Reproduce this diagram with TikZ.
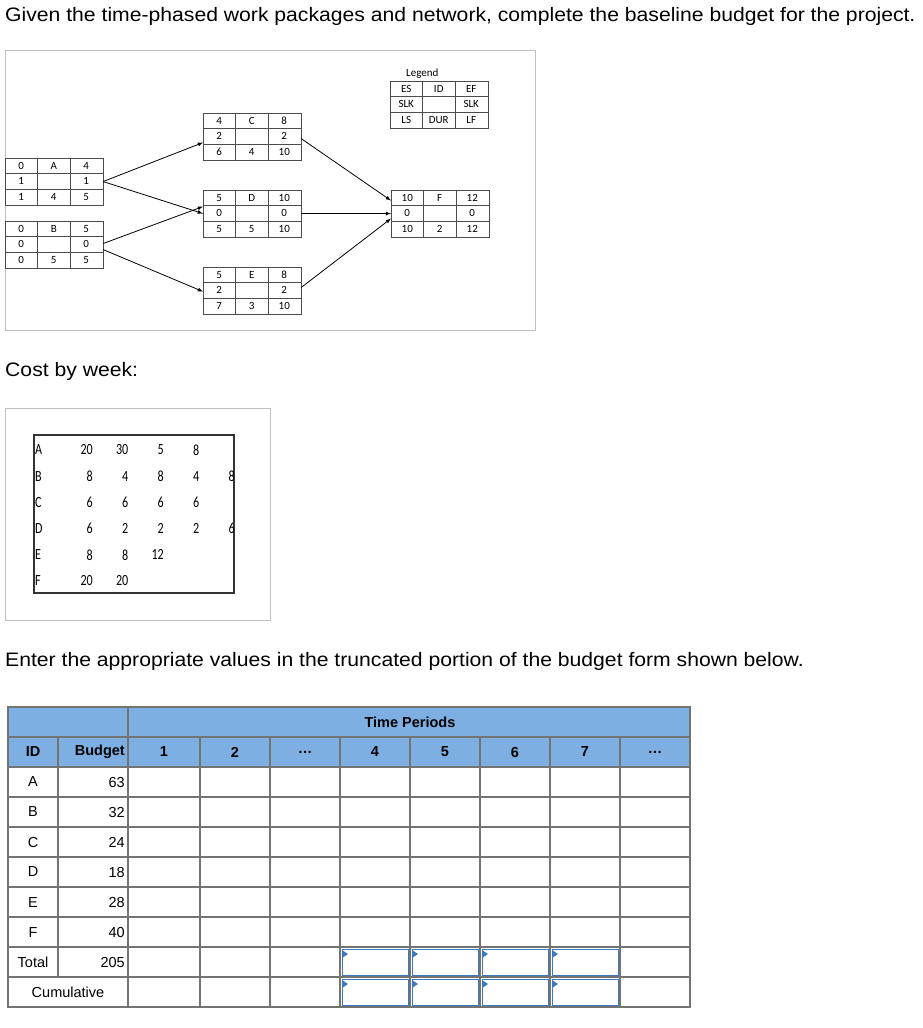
\documentclass[tikz,border=0pt]{standalone}
\usepackage{fontspec}
\setmainfont{Liberation Sans}
\newfontfamily\carl{Carlito}
\begin{document}
\begin{tikzpicture}[x=1pt,y=-1pt,
  netl/.style={draw=black!70,line width=0.6pt},
  nettxt/.style={font=\carl\fontsize{11}{12}\selectfont,inner sep=0},
  arr/.style={-latex,line width=0.8pt},
  costtxt/.style={font=\carl\fontsize{15.5}{16}\selectfont,inner sep=0,xscale=0.78},
  grid/.style={draw=black!55,line width=1.6pt},
  tt/.style={font=\fontsize{14.5}{16}\selectfont,inner sep=0},
  hd/.style={font=\bfseries\fontsize{14.5}{16}\selectfont,inner sep=0},
  bigtxt/.style={anchor=west,inner sep=0,font=\fontsize{19.5}{21}\selectfont,xscale=1.085},
  inbox/.style={fill=white,line width=1pt}]
\definecolor{hdblue}{HTML}{7DAFE3}
\definecolor{inblue}{HTML}{3D79C0}
\useasboundingbox (0,0) rectangle (922,1028);
\fill[white] (0,0) rectangle (922,1028);
\newcommand\netbox[4]{%
 \node[draw=black!70,line width=0.6pt,minimum width=97.5pt,minimum height=46.5pt,anchor=north west,inner sep=0](#1) at (#2,#3){};
 \draw[netl] (#2+32.5,#3)--(#2+32.5,#3+46.5) (#2+65,#3)--(#2+65,#3+46.5)
   (#2,#3+15.5)--(#2+97.5,#3+15.5) (#2,#3+31)--(#2+97.5,#3+31);
 \foreach \v [count=\i from 0] in {#4}{\pgfmathtruncatemacro\cc{mod(\i,3)}\pgfmathtruncatemacro\rr{\i/3}%
   \node[nettxt] at (#2+16.25+32.5*\cc,#3+7.75+15.5*\rr){\v};}}
\node[bigtxt] (title) at (5,16) {Given the time-phased work packages and network, complete the baseline budget for the project.};
\node[draw=black!25,line width=0.8pt,minimum width=530pt,minimum height=280pt,anchor=north west,inner sep=0] (netframe) at (5,50) {};
\node[nettxt,anchor=west] (leglabel) at (406,74) {Legend};
\netbox{L}{390}{81}{ES,ID,EF,SLK,,SLK,LS,DUR,LF}
\netbox{A}{5}{158}{0,A,4,1,,1,1,4,5}
\netbox{B}{5}{221}{0,B,5,0,,0,0,5,5}
\netbox{C}{203}{113}{4,C,8,2,,2,6,4,10}
\netbox{D}{203}{190}{5,D,10,0,,0,5,5,10}
\netbox{E}{203}{267}{5,E,8,2,,2,7,3,10}
\netbox{F}{391}{190}{10,F,12,0,,0,10,2,12}
\draw[arr] (A.east) -- ([yshift=-6pt]C.west);
\draw[arr] (A.east) -- (D.west);
\draw[arr] ([yshift=1pt]B.east) -- ([yshift=7pt]D.west);
\draw[arr] ([yshift=-5pt]B.east) -- ([yshift=-1pt]E.west);
\draw[arr] ([yshift=-2pt]C.east) -- ([yshift=13pt]F.west);
\draw[arr] (D.east) -- (F.west);
\draw[arr] ([yshift=3pt]E.east) -- ([yshift=-5pt]F.west);
\node[bigtxt] (cbw) at (5,371) {Cost by week:};
\node[draw=black!25,line width=0.8pt,minimum width=265pt,minimum height=212pt,anchor=north west,inner sep=0] (costframe) at (5,408) {};
\node[draw=black!80,line width=1.6pt,minimum width=200pt,minimum height=158pt,anchor=north west,inner sep=0] (costbox) at (33,434) {};
\foreach \r/\vals [count=\k from 0] in {A/{20,30,5,8},B/{8,4,8,4,8},C/{6,6,6,6},D/{6,2,2,2,6},E/{8,8,12},F/{20,20}}{
  \node[costtxt,anchor=west] at (35,450+26.2*\k) {\r};
  \foreach \v [count=\j from 0] in \vals {\node[costtxt,anchor=east] at (93+35.5*\j,450+26.2*\k) {\v};}}
\node[bigtxt] (enter) at (5,661) {Enter the appropriate values in the truncated portion of the budget form shown below.};
% budget table
\fill[hdblue] (8,707) rectangle (690,767);
\foreach \x in {340,410,480,550}{
  \foreach \y in {947,977}{
   \draw[inbox,draw=inblue] (\x+2,\y+2) rectangle (\x+68,\y+28);
   \fill[inblue] (\x+2,\y+3) -- (\x+8,\y+7) -- (\x+2,\y+11) -- cycle;}}
\draw[grid] (8,707) rectangle (690,1007);
\draw[grid] (128,707)--(128,1007) (8,737)--(690,737);
\foreach \y in {767,797,827,857,887,917,947,977}{\draw[grid] (8,\y)--(690,\y);}
\foreach \x in {200,270,340,410,480,550,620}{\draw[grid] (\x,737)--(\x,1007);}
\draw[grid] (58,737)--(58,977);
\node[hd] (tp) at (410,722) {Time Periods};
\node[hd] at (33,752) {ID};
\node[hd,anchor=east] at (125,752) {Budget};
\foreach \t/\x in {1/164,2/235,\ldots/305,4/375,5/445,6/515,7/585,\ldots/655}{\node[hd] at (\x,752) {\t};}
\foreach \id/\b [count=\k from 0] in {A/63,B/32,C/24,D/18,E/28,F/40,Total/205}{
  \node[tt] at (33,782+30*\k) {\id};
  \node[tt,anchor=east] at (125,782+30*\k) {\b};}
\node[tt] at (68,992) {Cumulative};
\end{tikzpicture}
\end{document}
